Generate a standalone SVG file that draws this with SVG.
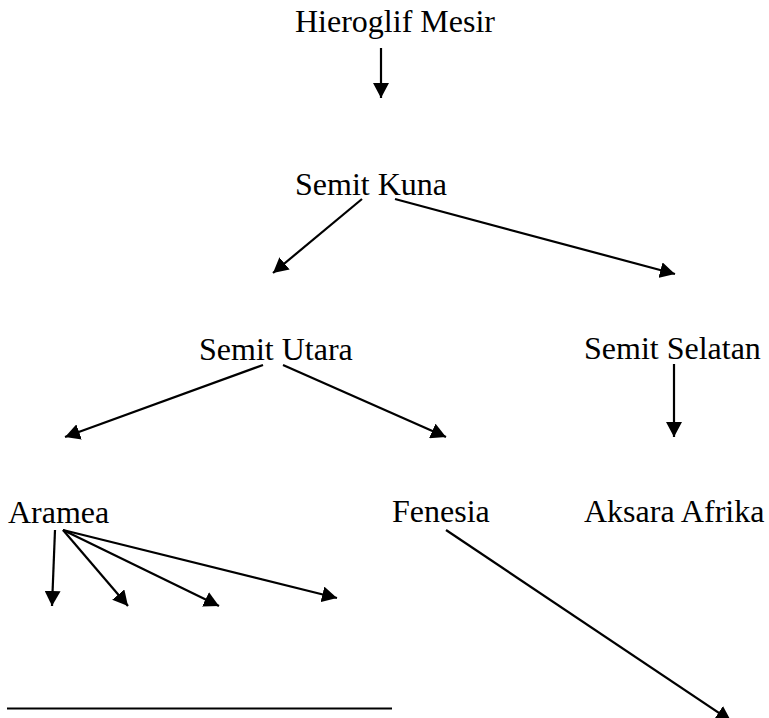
<svg xmlns="http://www.w3.org/2000/svg" width="769" height="718" viewBox="0 0 769 718">
<defs>
<style>
text{font-family:"Liberation Serif","Times New Roman",serif;font-size:32px;fill:#000}
.c line{stroke:#000;stroke-width:2.2;marker-end:url(#ah)}
</style>
<marker id="ah" markerUnits="userSpaceOnUse" markerWidth="16" markerHeight="16" refX="15" refY="8" orient="auto" viewBox="0 0 16 16">
<path d="M0,0 L15,8 L0,16 z" fill="#000"/>
</marker>
</defs>
<rect width="769" height="718" fill="#fff"/>
<g id="hieroglif"><text x="295" y="32">Hieroglif Mesir</text></g>
<g id="semit-kuna"><text x="295" y="195">Semit Kuna</text></g>
<g id="semit-utara"><text x="199" y="360">Semit Utara</text></g>
<g id="semit-selatan"><text x="584" y="359">Semit Selatan</text></g>
<g id="aramea"><text x="8" y="523">Aramea</text></g>
<g id="fenesia"><text x="392" y="522">Fenesia</text></g>
<g id="aksara-afrika"><text x="584" y="522">Aksara Afrika</text></g>
<g class="c" id="connectors">
<line x1="381" y1="48" x2="381" y2="98"/>
<line x1="362" y1="199" x2="273" y2="273"/>
<line x1="395" y1="199" x2="675" y2="274"/>
<line x1="263" y1="365" x2="65" y2="437"/>
<line x1="283" y1="365" x2="446" y2="437"/>
<line x1="674" y1="364" x2="674" y2="437"/>
<line x1="55" y1="530" x2="52" y2="606"/>
<line x1="63" y1="530" x2="128" y2="606"/>
<line x1="63" y1="530" x2="219" y2="606"/>
<line x1="63" y1="530" x2="337" y2="598"/>
<line x1="446" y1="530" x2="731" y2="721"/>
</g>
<line x1="7" y1="708.5" x2="392" y2="708.5" stroke="#000" stroke-width="2.2"/>
</svg>
